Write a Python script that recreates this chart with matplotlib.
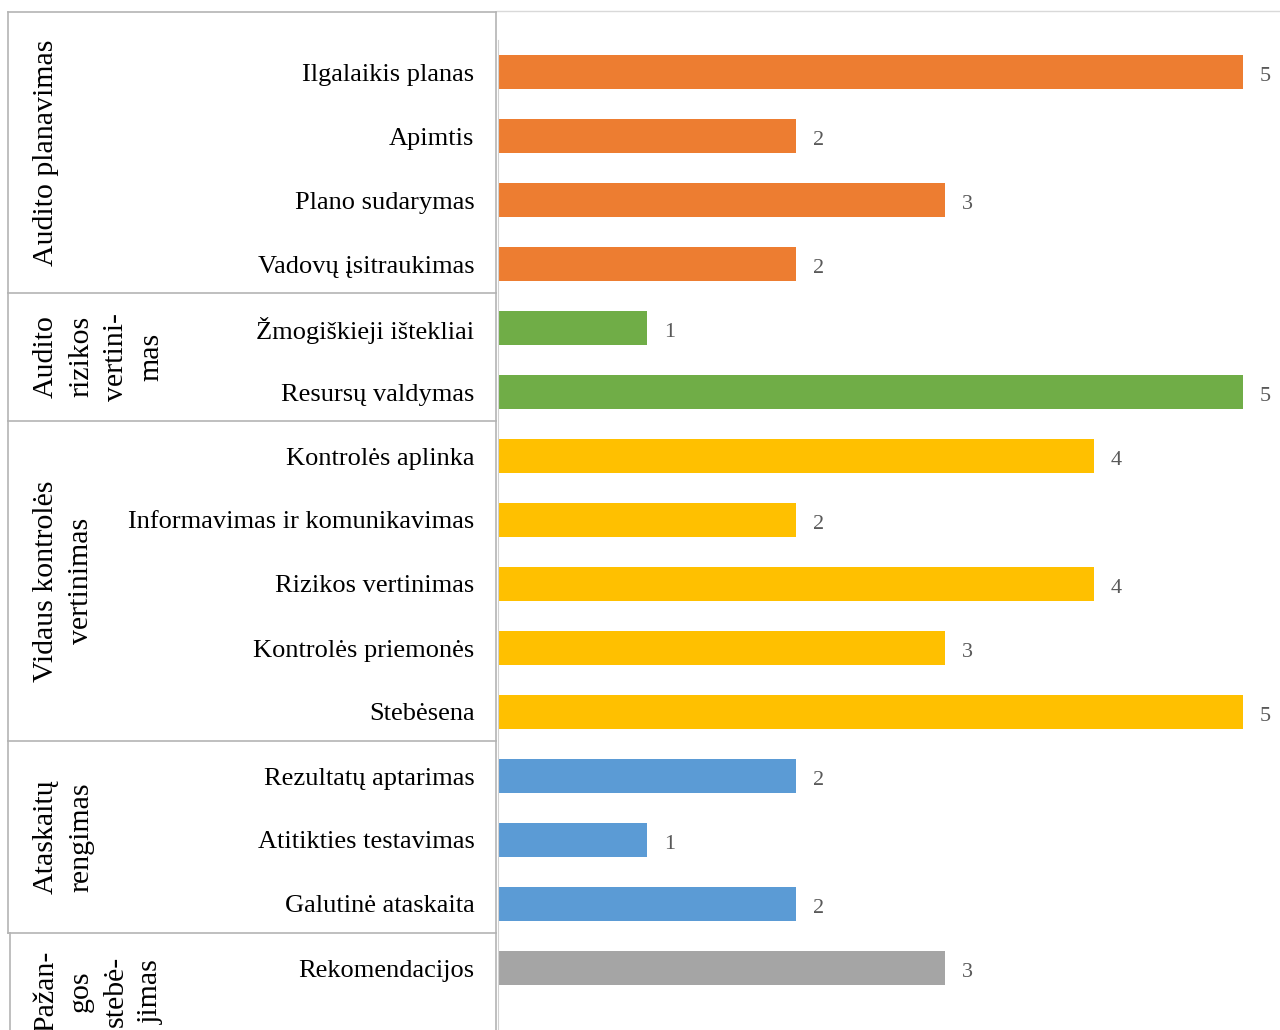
import matplotlib.pyplot as plt
from matplotlib.lines import Line2D

plt.rcParams['font.family'] = ['Liberation Serif', 'DejaVu Serif']

# Categories, top to bottom
categories = [
    'Ilgalaikis planas', 'Apimtis', 'Plano sudarymas', 'Vadovų įsitraukimas',
    'Žmogiškieji ištekliai', 'Resursų valdymas',
    'Kontrolės aplinka', 'Informavimas ir komunikavimas', 'Rizikos vertinimas',
    'Kontrolės priemonės', 'Stebėsena',
    'Rezultatų aptarimas', 'Atitikties testavimas', 'Galutinė ataskaita',
    'Rekomendacijos',
]
values = [5, 2, 3, 2, 1, 5, 4, 2, 4, 3, 5, 2, 1, 2, 3]

group_names = [
    'Audito planavimas',
    'Audito\nrizikos\nvertini-\nmas',
    'Vidaus kontrolės\nvertinimas',
    'Ataskaitų\nrengimas',
    'Pažan-\ngos\nstebė-\njimas',
]
group_sizes = [4, 2, 5, 3, 1]
group_colors = ['#ED7D31', '#70AD47', '#FFC000', '#5B9BD5', '#A5A5A5']

W, H = 1280, 1030
fig = plt.figure(figsize=(W / 100, H / 100), dpi=100)
ax = fig.add_axes([498 / W, 0, 1 - 498 / W, 1 - 40 / H])

colors = []
for c, n in zip(group_colors, group_sizes):
    colors += [c] * n

ypos = list(range(len(categories)))
ax.barh(ypos, values, height=0.52, color=colors)
for y, v in zip(ypos, values):
    ax.annotate(str(v), (v, y), xytext=(12, -1.5), textcoords='offset points',
                va='center_baseline', ha='left', fontsize=16, color='#595959')

ax.set_xlim(0, 782 / 149)
ax.set_ylim(-0.5 + 990 / 64, -0.5)
ax.set_xticks([])
ax.set_yticks(ypos)
ax.set_yticklabels(categories, fontsize=19)
ax.tick_params(axis='y', length=0, pad=17)
for s in ['top', 'right', 'bottom']:
    ax.spines[s].set_visible(False)
ax.spines['left'].set_color('#d0d0d0')

# Group boxes on the left
line_col = '#b4b4b4'
x0, x1 = 8 / W, 496 / W
top_fig = 1 - 12 / H
fig.add_artist(Line2D([497 / W, 1], [1 - 11 / H] * 2, color='#d9d9d9', lw=1))
fig.add_artist(Line2D([x0, x1], [top_fig] * 2, color=line_col, lw=1.2))

to_fig = lambda yd: fig.transFigure.inverted().transform(ax.transData.transform((0, yd)))[1]
start = 0
edges = [top_fig]
for n in group_sizes:
    end = start + n
    edges.append(to_fig(end - 0.55))
    start = end
edges[-1] = -20 / H

for i, name in enumerate(group_names):
    ytop, ybot = edges[i], edges[i + 1]
    if i < len(group_names) - 1:
        fig.add_artist(Line2D([x0, x1], [ybot] * 2, color=line_col, lw=1.2))
    lx = 10 / W if i == len(group_names) - 1 else x0
    fig.add_artist(Line2D([lx, lx], [ytop, max(ybot, 0)], color=line_col, lw=1.2))
    fig.add_artist(Line2D([x1, x1], [ytop, max(ybot, 0)], color=line_col, lw=1.2))
    fig.text(33 / W, (ytop + ybot) / 2, name, rotation=90, ha='left', va='center',
             multialignment='center', fontsize=21.5, linespacing=1.45)

fig.savefig('out.png', dpi=100)
